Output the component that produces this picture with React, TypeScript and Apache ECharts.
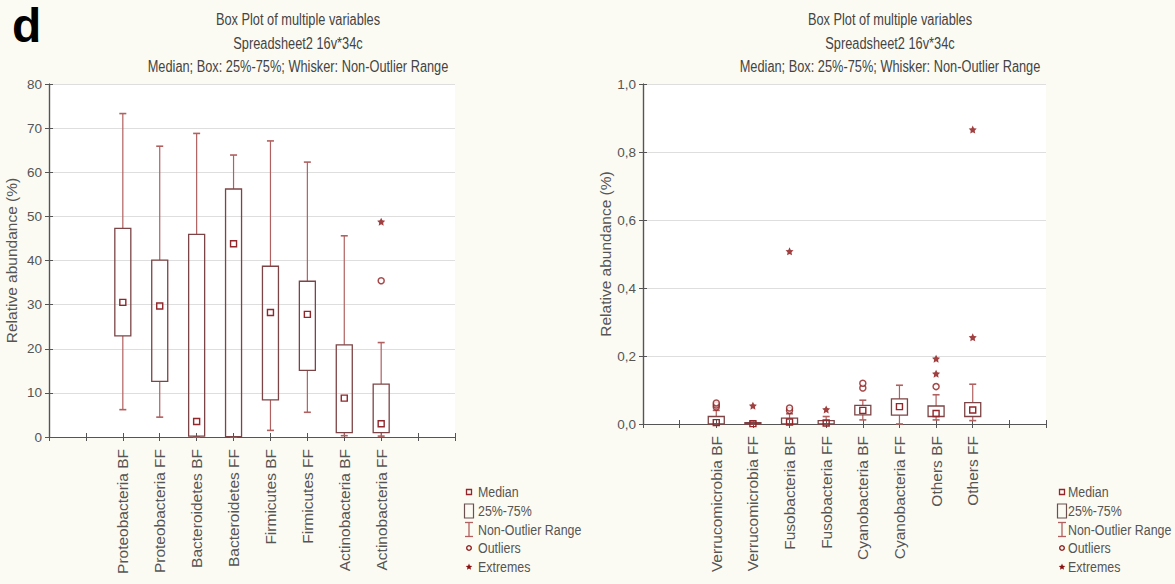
import React, { useEffect, useRef } from "react";
import * as echarts from "echarts";

// Left panel: major phyla (relative abundance, %)
const leftCategories = [
  "Proteobacteria BF",
  "Proteobacteria FF",
  "Bacteroidetes BF",
  "Bacteroidetes FF",
  "Firmicutes BF",
  "Firmicutes FF",
  "Actinobacteria BF",
  "Actinobacteria FF",
];
const leftLow = [6.2, 4.5, 0, 0, 1.5, 5.6, 0.3, 0.2];
const leftQ1 = [22.9, 12.6, 0.2, 0.1, 8.4, 15.1, 1.0, 1.0];
const leftMedian = [30.5, 29.7, 3.5, 43.8, 28.2, 27.8, 8.8, 3.0];
const leftQ3 = [47.3, 40.1, 45.9, 56.2, 38.7, 35.3, 20.9, 12.0];
const leftHigh = [73.3, 65.9, 68.8, 63.9, 67.1, 62.3, 45.6, 21.4];
// [category index, value]
const leftOutliers = [[7, 35.4]];
const leftExtremes = [[7, 48.8]];
const leftTicks = [0, 10, 20, 30, 40, 50, 60, 70, 80];

// Right panel: minor phyla (relative abundance, %)
const rightCategories = [
  "Verrucomicrobia BF",
  "Verrucomicrobia FF",
  "Fusobacteria BF",
  "Fusobacteria FF",
  "Cyanobacteria BF",
  "Cyanobacteria FF",
  "Others BF",
  "Others FF",
];
const rightLow = [0, 0, 0, 0, 0.012, 0, 0.012, 0.01];
const rightQ1 = [0, 0, 0, 0, 0.027, 0.026, 0.022, 0.022];
const rightMedian = [0.004, 0.001, 0.006, 0.003, 0.04, 0.051, 0.031, 0.041];
const rightQ3 = [0.022, 0.004, 0.017, 0.01, 0.055, 0.074, 0.053, 0.063];
const rightHigh = [0.04, 0.006, 0.03, 0.022, 0.07, 0.114, 0.086, 0.117];
const rightOutliers = [
  [0, 0.05],
  [0, 0.056],
  [0, 0.062],
  [2, 0.04],
  [2, 0.047],
  [4, 0.106],
  [4, 0.12],
  [6, 0.11],
];
const rightExtremes = [
  [1, 0.054],
  [2, 0.508],
  [3, 0.043],
  [6, 0.148],
  [6, 0.192],
  [7, 0.255],
  [7, 0.866],
];
const rightTicks = [0, 0.2, 0.4, 0.6, 0.8, 1.0];

const titleLines = [
  "Box Plot of multiple variables",
  "Spreadsheet2 16v*34c",
  "Median; Box: 25%-75%; Whisker: Non-Outlier Range",
];
const legendItems = ["Median", "25%-75%", "Non-Outlier Range", "Outliers", "Extremes"];
const yAxisName = "Relative abundance (%)";

// Styling
const BG = "#fcfbf3";
const FRAME = "#555555";
const GRID_LINE = "#dedede";
const TEXT = "#555555";
const BOX = "#7c4446";
const WHISKER = "#b0605f";
const MEDIAN = "#92262a";
const OUTLIER = "#8e1d1d";
const EXTREME = "#8a1010";
const FONT = "'Liberation Sans', Arial, sans-serif";
const TEXT_STRETCH = 1.22; // tall, narrow lettering for the headers and key
const STAR =
  "path://M0,-10 L2.9,-4 L9.5,-3.1 L4.7,1.5 L5.9,8.1 L0,5 L-5.9,8.1 L-4.7,1.5 L-9.5,-3.1 L-2.9,-4 Z";

// Categories sit at positions 2..9 on an 0..11 value axis
const OFFSET = 2;

const boxData = (low: number[], q1: number[], med: number[], q3: number[], high: number[]) =>
  low.map((_, i) => [i + OFFSET, low[i], q1[i], med[i], q3[i], high[i]]);
const pointData = (pts: number[][]) => pts.map(([i, v]) => [i + OFFSET, v]);

const renderBox = (_params: any, api: any) => {
  const x = api.value(0);
  const pLo = api.coord([x, api.value(1)]);
  const pQ1 = api.coord([x, api.value(2)]);
  const pMed = api.coord([x, api.value(3)]);
  const pQ3 = api.coord([x, api.value(4)]);
  const pHi = api.coord([x, api.value(5)]);
  const cx = pLo[0];
  const hw = 8;
  const cap = 3.5;
  const m = 3;
  const wStyle = { stroke: WHISKER, lineWidth: 1.2 };
  return {
    type: "group",
    children: [
      { type: "line", shape: { x1: cx, y1: pHi[1], x2: cx, y2: pQ3[1] }, style: wStyle },
      { type: "line", shape: { x1: cx, y1: pQ1[1], x2: cx, y2: pLo[1] }, style: wStyle },
      { type: "line", shape: { x1: cx - cap, y1: pHi[1], x2: cx + cap, y2: pHi[1] }, style: { stroke: WHISKER, lineWidth: 1.6 } },
      { type: "line", shape: { x1: cx - cap, y1: pLo[1], x2: cx + cap, y2: pLo[1] }, style: { stroke: WHISKER, lineWidth: 1.6 } },
      {
        type: "rect",
        shape: { x: cx - hw, y: pQ3[1], width: hw * 2, height: Math.max(pQ1[1] - pQ3[1], 1) },
        style: { fill: "none", stroke: BOX, lineWidth: 1.3 },
      },
      {
        type: "rect",
        shape: { x: cx - m, y: pMed[1] - m, width: m * 2, height: m * 2 },
        style: { fill: "none", stroke: MEDIAN, lineWidth: 1.4 },
      },
    ],
  };
};

const xAxes = (gridIndex: number, names: string[]) => [
  {
    gridIndex,
    type: "value",
    min: 0,
    max: 11,
    interval: 1,
    position: "bottom",
    axisLine: { lineStyle: { color: FRAME, width: 1.2 } },
    axisTick: { inside: true, length: 4, lineStyle: { color: FRAME } },
    splitLine: { show: false },
    axisLabel: {
      rotate: 90,
      margin: 12,
      color: TEXT,
      fontFamily: FONT,
      fontSize: 15.5,
      formatter: (v: number) => names[v - OFFSET] ?? "",
    },
  },
  {
    gridIndex,
    type: "value",
    min: 0,
    max: 11,
    interval: 1,
    position: "top",
    axisLine: { lineStyle: { color: FRAME, width: 1.2 } },
    axisTick: { inside: true, length: 4, lineStyle: { color: FRAME } },
    splitLine: { show: false },
    axisLabel: { show: false },
  },
];

const yAxes = (gridIndex: number, ticks: number[], fmt: (v: number) => string) => {
  const min = ticks[0];
  const max = ticks[ticks.length - 1];
  const interval = ticks[1] - ticks[0];
  return [
    {
      gridIndex,
      type: "value",
      min,
      max,
      interval,
      position: "left",
      name: yAxisName,
      nameLocation: "middle",
      nameRotate: 90,
      nameGap: 30,
      nameTextStyle: { color: TEXT, fontFamily: FONT, fontSize: 15.5 },
      axisLine: { show: true, lineStyle: { color: FRAME, width: 1.2 } },
      axisTick: { show: true, inside: true, length: 4, lineStyle: { color: FRAME } },
      splitLine: { show: true, lineStyle: { color: GRID_LINE, width: 1 } },
      axisLabel: { color: TEXT, fontFamily: FONT, fontSize: 13.5, margin: 7, formatter: fmt },
    },
    {
      gridIndex,
      type: "value",
      min,
      max,
      interval,
      position: "right",
      axisLine: { show: true, lineStyle: { color: FRAME, width: 1.2 } },
      axisTick: { show: true, inside: true, length: 4, lineStyle: { color: FRAME } },
      splitLine: { show: false },
      axisLabel: { show: false },
    },
  ];
};

const titleGraphics = (cx: number) =>
  titleLines.map((t, i) => ({
    type: "text",
    x: cx,
    y: 20 + i * 23.5,
    scaleY: TEXT_STRETCH,
    style: {
      text: t,
      fill: "#444444",
      font: `12.8px ${FONT}`,
      textAlign: "center",
      textVerticalAlign: "middle",
    },
  }));

const starPoints = (cx: number, cy: number, r: number) => {
  const pts: number[][] = [];
  for (let k = 0; k < 10; k++) {
    const a = -Math.PI / 2 + (k * Math.PI) / 5;
    const rr = k % 2 === 0 ? r : r * 0.45;
    pts.push([cx + rr * Math.cos(a), cy + rr * Math.sin(a)]);
  }
  return pts;
};

const legendGraphics = (mx: number, tx: number) => {
  const rows = [492, 511, 529.5, 548, 567];
  const els: any[] = [];
  // median marker
  els.push({ type: "rect", shape: { x: mx - 2.5, y: rows[0] - 2.5, width: 5, height: 5 }, style: { fill: "none", stroke: MEDIAN, lineWidth: 1.3 } });
  // box marker
  els.push({ type: "rect", shape: { x: mx - 4.5, y: rows[1] - 7, width: 9, height: 14 }, style: { fill: "none", stroke: "#6a5050", lineWidth: 1.2 } });
  // whisker marker
  els.push({ type: "line", shape: { x1: mx, y1: rows[2] - 7, x2: mx, y2: rows[2] + 7 }, style: { stroke: WHISKER, lineWidth: 1.3 } });
  els.push({ type: "line", shape: { x1: mx - 4, y1: rows[2] - 7, x2: mx + 4, y2: rows[2] - 7 }, style: { stroke: WHISKER, lineWidth: 1.3 } });
  els.push({ type: "line", shape: { x1: mx - 4, y1: rows[2] + 7, x2: mx + 4, y2: rows[2] + 7 }, style: { stroke: WHISKER, lineWidth: 1.3 } });
  // outlier marker
  els.push({ type: "circle", shape: { cx: mx, cy: rows[3], r: 2.3 }, style: { fill: "none", stroke: OUTLIER, lineWidth: 1.4 } });
  // extreme marker
  els.push({ type: "polygon", shape: { points: starPoints(mx, rows[4], 3.5) }, style: { fill: EXTREME } });
  legendItems.forEach((t, i) => {
    els.push({
      type: "text",
      x: tx,
      y: rows[i],
      scaleY: TEXT_STRETCH,
      style: { text: t, fill: TEXT, font: `12.4px ${FONT}`, textAlign: "left", textVerticalAlign: "middle" },
    });
  });
  return els;
};

export default function App() {
  const ref = useRef<HTMLDivElement>(null);

  useEffect(() => {
    if (!ref.current) return;
    const chart = echarts.init(ref.current, undefined, { renderer: "svg" });
    const leftFmt = (v: number) => String(v);
    const rightFmt = (v: number) => v.toFixed(1).replace(".", ",");

    chart.setOption({
      animation: false,
      backgroundColor: BG,
      grid: [
        { left: 49, top: 84, width: 406, height: 353, show: true, backgroundColor: "#ffffff", borderWidth: 0 },
        { left: 643, top: 84, width: 403, height: 340, show: true, backgroundColor: "#ffffff", borderWidth: 0 },
      ],
      xAxis: [...xAxes(0, leftCategories), ...xAxes(1, rightCategories)],
      yAxis: [...yAxes(0, leftTicks, leftFmt), ...yAxes(1, rightTicks, rightFmt)],
      series: [
        {
          type: "custom",
          xAxisIndex: 0,
          yAxisIndex: 0,
          renderItem: renderBox,
          encode: { x: 0, y: [1, 2, 3, 4, 5] },
          data: boxData(leftLow, leftQ1, leftMedian, leftQ3, leftHigh),
          z: 3,
        },
        {
          type: "scatter",
          xAxisIndex: 0,
          yAxisIndex: 0,
          symbol: "circle",
          symbolSize: 6,
          itemStyle: { color: "#ffffff", borderColor: OUTLIER, borderWidth: 1.5 },
          data: pointData(leftOutliers),
          z: 4,
        },
        {
          type: "scatter",
          xAxisIndex: 0,
          yAxisIndex: 0,
          symbol: STAR,
          symbolSize: 8,
          itemStyle: { color: EXTREME },
          data: pointData(leftExtremes),
          z: 4,
        },
        {
          type: "custom",
          xAxisIndex: 2,
          yAxisIndex: 2,
          renderItem: renderBox,
          encode: { x: 0, y: [1, 2, 3, 4, 5] },
          data: boxData(rightLow, rightQ1, rightMedian, rightQ3, rightHigh),
          z: 3,
        },
        {
          type: "scatter",
          xAxisIndex: 2,
          yAxisIndex: 2,
          symbol: "circle",
          symbolSize: 6,
          itemStyle: { color: "#ffffff", borderColor: OUTLIER, borderWidth: 1.5 },
          data: pointData(rightOutliers),
          z: 4,
        },
        {
          type: "scatter",
          xAxisIndex: 2,
          yAxisIndex: 2,
          symbol: STAR,
          symbolSize: 8,
          itemStyle: { color: EXTREME },
          data: pointData(rightExtremes),
          z: 4,
        },
      ],
      graphic: [
        {
          type: "text",
          x: 12,
          y: 1,
          style: { text: "d", fill: "#000000", font: `bold 48px ${FONT}`, textAlign: "left", textVerticalAlign: "top" },
        },
        ...titleGraphics(298),
        ...titleGraphics(890),
        ...legendGraphics(469, 478),
        ...legendGraphics(1062, 1068),
      ],
    });

    return () => chart.dispose();
  }, []);

  return (
    <div
      ref={ref}
      style={{ position: "fixed", left: 0, top: 0, width: 1175, height: 584 }}
    />
  );
}
